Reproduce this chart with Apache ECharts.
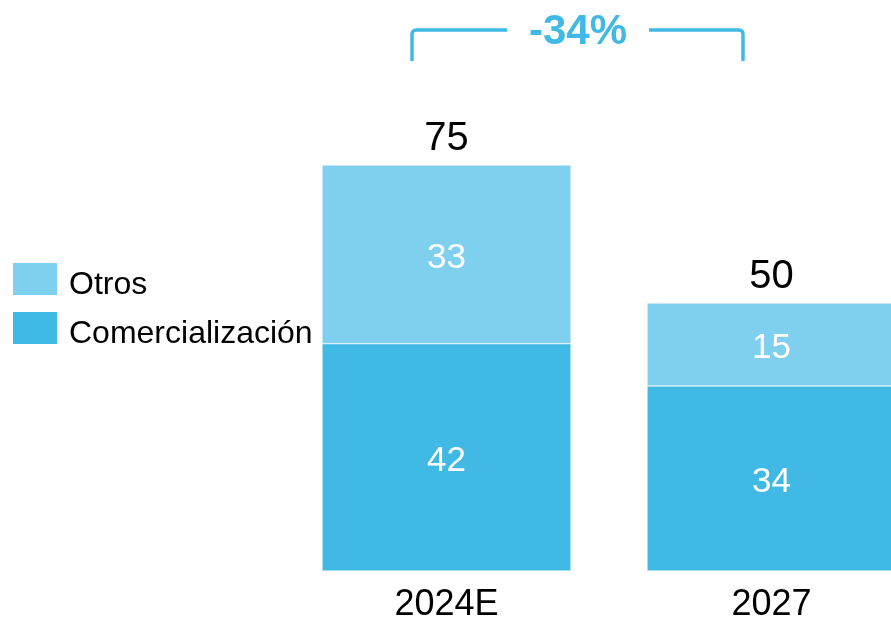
<!DOCTYPE html>
<html>
<head>
<meta charset="utf-8">
<script src="https://cdn.jsdelivr.net/npm/echarts@6/dist/echarts.min.js"></script>
<style>html,body{margin:0;padding:0;background:#fff}#c{width:891px;height:619px}</style>
</head>
<body>
<div id="c"></div>
<script>
var categories = ['2024E', '2027'];
var comercializacion = [42, 34.2];
var otros = [33, 15.3];
var totals = [75, 50];
var changeLabel = '-34%';

var FONT = '"Liberation Sans", Arial, sans-serif';
var DARK = '#41b9e5';
var LIGHT = '#7fcfee';

var chart = echarts.init(document.getElementById('c'));
chart.setOption({
  animation: false,
  backgroundColor: '#ffffff',
  grid: { left: 284, width: 650, top: 29.7, bottom: 48, containLabel: false, outerBoundsMode: 'none' },
  legend: {
    orient: 'vertical', left: 8, top: 252,
    itemWidth: 44, itemHeight: 32, itemGap: 5,
    icon: 'rect',
    itemStyle: { borderWidth: 0 },
    data: ['Otros', 'Comercialización'],
    formatter: function (name) { return '{s|}{t|' + name + '}'; },
    textStyle: {
      fontFamily: FONT, fontSize: 32, color: '#000', padding: [0, 0, 0, 7],
      rich: {
        s: { width: 0, height: 44, lineHeight: 44 },
        t: { fontFamily: FONT, fontSize: 32, color: '#000', lineHeight: 32, verticalAlign: 'bottom' }
      }
    }
  },
  xAxis: {
    type: 'category', data: categories,
    axisLine: { show: false }, axisTick: { show: false },
    axisLabel: { fontFamily: FONT, fontSize: 36, color: '#000', margin: 16 }
  },
  yAxis: { type: 'value', min: 0, max: 100, show: false, splitLine: { show: false } },
  series: [
    {
      name: 'Comercialización', type: 'bar', stack: 's', data: comercializacion,
      barWidth: 249,
      itemStyle: { color: DARK, borderColor: '#fff', borderWidth: 0.5 },
      label: { show: true, position: 'inside', offset: [0, 4], fontFamily: FONT, fontSize: 35, color: '#fff',
        formatter: function (p) { return Math.round(p.value); } }
    },
    {
      name: 'Otros', type: 'bar', stack: 's', data: otros,
      barWidth: 249,
      itemStyle: { color: LIGHT, borderColor: '#fff', borderWidth: 0.5 },
      label: { show: true, position: 'inside', offset: [0, 4], fontFamily: FONT, fontSize: 35, color: '#fff',
        formatter: function (p) { return Math.round(p.value); } }
    },
    {
      name: 'Total', type: 'bar', stack: 's', data: [0, 0],
      barWidth: 249,
      itemStyle: { color: 'transparent' },
      label: { show: true, position: 'top', distance: 6, fontFamily: FONT, fontSize: 40, color: '#000',
        formatter: function (p) { return totals[p.dataIndex]; } }
    }
  ],
  graphic: [
    { type: 'polyline', shape: { points: [[412,61],[412,34],[412.6,31.8],[414.2,30.4],[416.5,30],[507,30]] },
      style: { stroke: DARK, lineWidth: 3.5, fill: null } },
    { type: 'polyline', shape: { points: [[649,30],[738.5,30],[740.8,30.4],[742.4,31.8],[743,34],[743,61]] },
      style: { stroke: DARK, lineWidth: 3.5, fill: null } },
    { type: 'text', x: 578, y: 32,
      style: { text: changeLabel, fill: DARK, font: 'bold 42px ' + FONT, textAlign: 'center', textVerticalAlign: 'middle' } }
  ]
});
</script>
</body>
</html>
